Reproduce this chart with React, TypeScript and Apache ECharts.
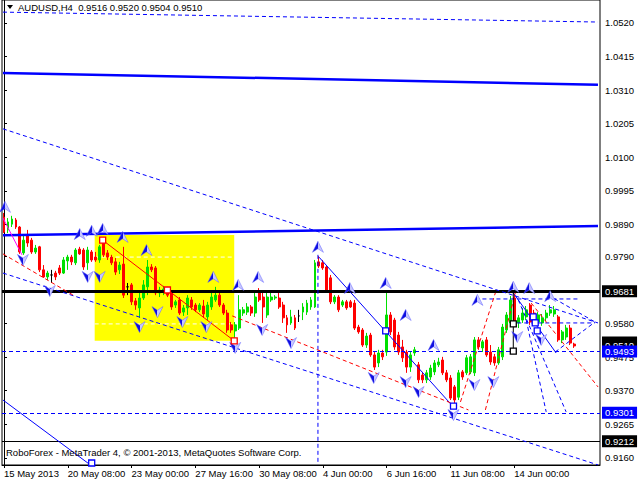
import React, { useEffect, useRef } from "react";
import * as echarts from "echarts";

// ---- candle data (H4 bars, oldest first) ----
const opens = [
  0.9913, 0.9873, 0.9891, 0.9904, 0.9882, 0.9801, 0.9857, 0.9841, 0.9804, 0.982,
  0.9748, 0.9726, 0.9732, 0.9738, 0.9754, 0.9738, 0.9776, 0.9788, 0.977, 0.9813,
  0.981, 0.977, 0.9804, 0.9788, 0.9779, 0.9835, 0.9801, 0.9788, 0.9773, 0.9748,
  0.9766, 0.9695, 0.9701, 0.9651, 0.9629, 0.966, 0.9695, 0.9757, 0.9754, 0.9676,
  0.9679, 0.9685, 0.9676, 0.9638, 0.9654, 0.9616, 0.9629, 0.9654, 0.9638, 0.9623,
  0.9635, 0.9601, 0.9632, 0.9654, 0.9669, 0.9638, 0.9613, 0.9576, 0.9557, 0.9566,
  0.9613, 0.9616, 0.9632, 0.9613, 0.9679, 0.9663, 0.9607, 0.9654, 0.966, 0.966,
  0.9638, 0.9598, 0.9582, 0.9598, 0.9604, 0.9616, 0.9616, 0.9632, 0.9632, 0.9773,
  0.977, 0.9757, 0.9723, 0.9648, 0.9663, 0.9638, 0.9648, 0.9648, 0.9644, 0.9569,
  0.956, 0.9513, 0.9544, 0.9482, 0.9457, 0.9488, 0.9491, 0.9607, 0.9591, 0.9544,
  0.9507, 0.9491, 0.9444, 0.9488, 0.9451, 0.9419, 0.9404, 0.9413, 0.9429, 0.9451,
  0.9466, 0.9426, 0.941, 0.9382, 0.935, 0.9429, 0.9426, 0.9429, 0.9426, 0.9529,
  0.9504, 0.9529, 0.9491, 0.9476, 0.9457, 0.9476, 0.956, 0.9582, 0.966, 0.9582,
  0.9591, 0.9601, 0.9638, 0.9613, 0.9585, 0.9582, 0.9598, 0.9613, 0.961, 0.9601,
  0.9529, 0.9538, 0.9566, 0.9516,
];
const closes = [
  0.9866, 0.9898, 0.9907, 0.9882, 0.9804, 0.9841, 0.9832, 0.9804, 0.9816, 0.9748,
  0.9726, 0.9738, 0.9732, 0.9726, 0.9738, 0.9779, 0.9788, 0.9773, 0.981, 0.9798,
  0.9757, 0.981, 0.9779, 0.9779, 0.982, 0.9795, 0.9788, 0.977, 0.9741, 0.9763,
  0.9669, 0.9695, 0.9648, 0.9638, 0.966, 0.9701, 0.9757, 0.9748, 0.9676, 0.9685,
  0.9688, 0.9669, 0.9632, 0.9648, 0.9613, 0.9629, 0.966, 0.9632, 0.9623, 0.9638,
  0.961, 0.9638, 0.9663, 0.9669, 0.9638, 0.9613, 0.956, 0.956, 0.9576, 0.9623,
  0.9623, 0.9632, 0.9613, 0.9663, 0.9654, 0.9632, 0.9663, 0.9663, 0.9663, 0.9632,
  0.9598, 0.9576, 0.9601, 0.9566, 0.9604, 0.9632, 0.9644, 0.9654, 0.977, 0.976,
  0.9754, 0.9685, 0.9648, 0.9663, 0.9623, 0.9648, 0.9629, 0.9632, 0.9566, 0.9554,
  0.9513, 0.9541, 0.9482, 0.9444, 0.9488, 0.9476, 0.9607, 0.9554, 0.9507, 0.9491,
  0.9473, 0.9444, 0.9482, 0.9498, 0.9404, 0.9404, 0.9426, 0.9441, 0.9457, 0.946,
  0.9426, 0.9404, 0.9347, 0.9341, 0.9426, 0.9413, 0.9473, 0.9476, 0.9529, 0.9507,
  0.9523, 0.9482, 0.946, 0.9457, 0.9498, 0.9569, 0.9607, 0.9654, 0.9585, 0.9598,
  0.9613, 0.9623, 0.9585, 0.9591, 0.9607, 0.9598, 0.9613, 0.9623, 0.9623, 0.9529,
  0.9554, 0.9566, 0.9519, 0.951,
];
const lows = [
  0.9863, 0.9863, 0.9882, 0.9876, 0.9798, 0.9795, 0.982, 0.9798, 0.9798, 0.9741,
  0.9723, 0.9716, 0.9707, 0.9716, 0.9732, 0.9735, 0.9748, 0.9763, 0.9763, 0.9795,
  0.9748, 0.9748, 0.9773, 0.9773, 0.977, 0.9788, 0.9779, 0.9763, 0.9732, 0.9735,
  0.966, 0.9669, 0.9638, 0.9623, 0.9598, 0.9654, 0.9669, 0.9741, 0.9669, 0.9663,
  0.9669, 0.9663, 0.9623, 0.9629, 0.9607, 0.9604, 0.9607, 0.9623, 0.9616, 0.9616,
  0.9598, 0.9591, 0.9623, 0.9648, 0.9632, 0.9607, 0.9551, 0.9551, 0.9529, 0.956,
  0.9604, 0.9607, 0.9604, 0.9601, 0.9648, 0.9582, 0.9598, 0.9648, 0.9654, 0.9626,
  0.9582, 0.9551, 0.9576, 0.956, 0.9585, 0.9591, 0.9607, 0.9623, 0.9629, 0.9754,
  0.9748, 0.9679, 0.9641, 0.9641, 0.9616, 0.9632, 0.9623, 0.9629, 0.956, 0.9548,
  0.9507, 0.9504, 0.9476, 0.9435, 0.9444, 0.9466, 0.9479, 0.9544, 0.9498, 0.9482,
  0.946, 0.9426, 0.9429, 0.9479, 0.9394, 0.9394, 0.9394, 0.9404, 0.9419, 0.9444,
  0.9419, 0.9397, 0.9341, 0.9322, 0.9341, 0.9404, 0.9419, 0.9422, 0.9416, 0.9498,
  0.9491, 0.9476, 0.9451, 0.9448, 0.9451, 0.9466, 0.9551, 0.9573, 0.9569, 0.9566,
  0.9582, 0.9591, 0.9576, 0.9582, 0.9576, 0.9573, 0.9588, 0.9604, 0.9601, 0.9523,
  0.9519, 0.9529, 0.9513, 0.9504,
];
const highs = [
  0.9926, 0.991, 0.9917, 0.991, 0.9885, 0.9857, 0.9873, 0.9848, 0.9826, 0.9823,
  0.9763, 0.9745, 0.9748, 0.9745, 0.9763, 0.9788, 0.9795, 0.9795, 0.9816, 0.982,
  0.9816, 0.982, 0.981, 0.9804, 0.9826, 0.9841, 0.981, 0.9795, 0.9785, 0.9773,
  0.982, 0.9707, 0.9707, 0.966, 0.9685, 0.9716, 0.9779, 0.9766, 0.976, 0.9695,
  0.9698, 0.9695, 0.9685, 0.9654, 0.9663, 0.9638, 0.9669, 0.9663, 0.9644, 0.9644,
  0.9654, 0.9648, 0.9679, 0.9695, 0.9679, 0.9644, 0.9623, 0.9585, 0.9585, 0.9669,
  0.9632, 0.9644, 0.9638, 0.9679, 0.9691, 0.9676, 0.9679, 0.9676, 0.9669, 0.9679,
  0.9648, 0.9607, 0.9623, 0.9607, 0.9623, 0.9644, 0.9654, 0.9663, 0.9779, 0.9791,
  0.9779, 0.9763, 0.9732, 0.9669, 0.9669, 0.9654, 0.9654, 0.9654, 0.9654, 0.9576,
  0.9566, 0.9551, 0.9551, 0.9491, 0.9498, 0.9498, 0.9676, 0.9616, 0.9598, 0.9554,
  0.9529, 0.9498, 0.9491, 0.9507, 0.946, 0.9429, 0.9435, 0.9451, 0.9466, 0.9473,
  0.9476, 0.9435, 0.9419, 0.9388, 0.9435, 0.9435, 0.9482, 0.9485, 0.9538, 0.9538,
  0.9529, 0.9538, 0.9513, 0.9485, 0.9507, 0.9579, 0.9616, 0.9666, 0.9673, 0.9607,
  0.9629, 0.9635, 0.9644, 0.9623, 0.9616, 0.961, 0.9623, 0.9638, 0.9635, 0.9607,
  0.956, 0.9576, 0.9576, 0.952,
];

// ---- axis labels ----
const timeLabels = [
  "15 May 2013", "20 May 08:00", "23 May 00:00", "27 May 16:00", "30 May 08:00",
  "4 Jun 00:00", "6 Jun 16:00", "11 Jun 08:00", "14 Jun 00:00",
];
const timeLabelBars = [0, 16, 32, 48, 64, 80, 96, 112, 128];
const totalSlots = 150;
const priceTicks = [
  0.916, 0.9265, 0.937, 0.9475, 0.958, 0.979, 0.989, 0.9995, 1.01, 1.0205, 1.031, 1.0415, 1.052,
];
const priceMin = 0.91378;
const priceMax = 1.05919;

// ---- horizontal levels (price) ----
const levelMain = 0.9681; // thick black
const levelLow = 0.9212; // thin black
const levelBid = 0.951; // last price label
const levelBlueA = 0.9493; // blue dashed
const levelBlueB = 0.9301; // blue dashed

// ---- drawn objects: [barFrom, priceFrom, barTo, priceTo] ----
const thickBlueLines = [
  [-0.25, 1.0364, 149, 1.0327],
  [-0.25, 0.9856, 149, 0.9885],
];
const blueDashedLines = [
  [-0.25, 1.0554, 149, 1.0523],
  [-0.25, 1.0189, 149, 0.9582],
  [-0.25, 0.9738, 149, 0.9138],
  [78.75, 0.9795, 78.75, 0.9138],
  [118.25, 0.9657, 144, 0.9657],
  [128.75, 0.9582, 148.25, 0.9582],
  [136.5, 0.9669, 148.25, 0.9585],
  [138.25, 0.9491, 148.25, 0.9585],
  [129, 0.9654, 141, 0.9304],
  [131, 0.9591, 136, 0.9304],
];
const blueThinLines = [
  [-0.25, 0.9341, 22, 0.9135],
  [79, 0.9788, 112.75, 0.9319],
  [127.75, 0.9676, 138.5, 0.9488],
];
const redDashedLines = [
  [-0.25, 0.9798, 17.75, 0.9666],
  [57.25, 0.9604, 116.5, 0.931],
  [114.5, 0.9335, 123.25, 0.9676],
  [120.75, 0.931, 128.25, 0.9676],
  [132.25, 0.9644, 149, 0.9382],
];
const redSolidLines = [[24.75, 0.9841, 57.75, 0.9526]];
const magentaLines = [[-0.25, 0.991, 4.5, 0.9795]];
const blackLines = [[127.75, 0.9676, 127.75, 0.9491]];
const whiteDashedLines = [
  [22.75, 0.9788, 57.75, 0.9788],
  [22.75, 0.9579, 57.75, 0.9579],
];
const yellowBox = [22.75, 0.9857, 57.75, 0.9526];

const upArrows = [
  [0.25, 0.9945], [19, 0.986], [22, 0.987], [24.75, 0.9876], [29.75, 0.9851],
  [35.75, 0.981], [52.5, 0.9726], [58.75, 0.9701], [63.75, 0.9726], [78.75, 0.982],
  [86.75, 0.9691], [95.75, 0.9707], [100.75, 0.9607], [107.75, 0.9513], [118.75, 0.9654],
  [127.75, 0.9695], [131.75, 0.9691], [137, 0.9666],
];
const downArrows = [
  [4.75, 0.9779], [11.5, 0.9682], [21, 0.9726], [24, 0.9726], [34, 0.9569],
  [38.5, 0.9616], [44.75, 0.9585], [50.75, 0.9569], [58, 0.9504], [64.75, 0.956],
  [72, 0.9519], [92.75, 0.941], [100.75, 0.9397], [104, 0.9366], [112.75, 0.9294],
  [118, 0.9388], [122.75, 0.9397], [128.75, 0.9538], [134.75, 0.9529],
];
const redSquares = [[24.75, 0.9841], [41, 0.9685], [57.75, 0.9526]];
const blueSquares = [
  [95.75, 0.9557], [112.75, 0.9322], [22, 0.9144], [132.75, 0.9601], [133.25, 0.9582], [133.75, 0.9557],
];
const blackSquares = [[127.75, 0.9579], [127.75, 0.9494]];

const FONT = "'Liberation Sans', Arial, sans-serif";
const BLUE = "#0000ff";

function segSeries(segs: number[][], color: string, width: number, type: any, z = 5) {
  return segs.map((s) => ({
    type: "line",
    xAxisIndex: 1,
    yAxisIndex: 0,
    data: [
      [s[0], s[1]],
      [s[2], s[3]],
    ],
    symbol: "none",
    silent: true,
    z,
    lineStyle: { color, width, type },
    animation: false,
  }));
}

export default function App() {
  const ref = useRef<HTMLDivElement>(null);
  useEffect(() => {
    if (!ref.current) return;
    const chart = echarts.init(ref.current, null, { renderer: "svg" });
    const cats = Array.from({ length: totalSlots }, (_, i) => {
      const k = timeLabelBars.indexOf(i);
      return k >= 0 ? timeLabels[k] : "";
    });
    const candles = opens.map((o, i) => [o, closes[i], lows[i], highs[i]]);
    const showFn = (_: number, v: string) => v !== "";
    const dash = [4, 3];
    const arrowFill = new echarts.graphic.LinearGradient(0, 0, 1, 0, [
      { offset: 0, color: "#1010e0" },
      { offset: 0.5, color: "#1010e0" },
      { offset: 0.5, color: "#c8c8ff" },
      { offset: 1, color: "#c8c8ff" },
    ]);
    const lvlLabel = (bg: string, pad = [1, 3, 1, 3]) => ({
      show: true,
      position: "end",
      distance: 2,
      formatter: (p: any) => Number(p.value).toFixed(4),
      color: "#fff",
      backgroundColor: bg,
      padding: pad,
      fontSize: 9.5,
      fontFamily: FONT,
    });

    const option: any = {
      animation: false,
      backgroundColor: "#fff",
      grid: {
        left: 2,
        right: 40,
        top: 0,
        bottom: 15,
        show: true,
        borderColor: "#000",
        borderWidth: 1,
        backgroundColor: "#fff",
      },
      xAxis: [
        {
          type: "category",
          data: cats,
          boundaryGap: true,
          axisLine: { show: true, lineStyle: { color: "#000" } },
          axisTick: { show: true, interval: showFn, alignWithLabel: true, length: 3, lineStyle: { color: "#000" } },
          axisLabel: {
            interval: showFn,
            align: "left",
            margin: 3,
            fontSize: 9.5,
            fontFamily: FONT,
            color: "#000",
          },
          splitLine: { show: false },
        },
        { type: "value", min: -0.5, max: totalSlots - 0.5, show: false },
      ],
      yAxis: {
        type: "value",
        position: "right",
        min: priceMin,
        max: priceMax,
        splitLine: { show: false },
        axisLine: { show: true, lineStyle: { color: "#000" } },
        axisTick: { show: true, length: 3, customValues: priceTicks, lineStyle: { color: "#000" } },
        axisLabel: {
          customValues: priceTicks,
          formatter: (v: number) => v.toFixed(4),
          margin: 5,
          fontSize: 9.5,
          fontFamily: FONT,
          color: "#000",
        },
      },
      graphic: [
        { type: "polygon", shape: { points: [[7, 5], [13, 5], [10, 9]] }, style: { fill: "#000" }, z: 20 },
        {
          type: "text",
          x: 18,
          y: 2,
          style: { text: "AUDUSD,H4  0.9516 0.9520 0.9504 0.9510", fill: "#000", font: `9.5px ${FONT}` },
          z: 20,
        },
        {
          type: "text",
          x: 6,
          y: 447,
          style: {
            text: "RoboForex - MetaTrader 4, © 2001-2013, MetaQuotes Software Corp.",
            fill: "#000",
            font: `9.5px ${FONT}`,
          },
          z: 20,
        },
      ],
      series: [
        {
          type: "line",
          xAxisIndex: 1,
          data: [],
          silent: true,
          z: 1,
          markArea: {
            silent: true,
            itemStyle: { color: "#ffff00", opacity: 1 },
            data: [[{ coord: [yellowBox[0], yellowBox[1]] }, { coord: [yellowBox[2], yellowBox[3]] }]],
          },
        },
        ...segSeries(whiteDashedLines, "#ffffff", 1, dash, 2),
        {
          type: "candlestick",
          xAxisIndex: 0,
          yAxisIndex: 0,
          data: candles,
          barWidth: 2.4,
          z: 3,
          silent: true,
          itemStyle: {
            color: "#00e000",
            color0: "#ff0000",
            borderColor: "#00e000",
            borderColor0: "#ff0000",
            borderColorDoji: "#000000",
            borderWidth: 1,
          },
          markLine: {
            silent: true,
            precision: 4,
            symbol: ["none", "none"],
            data: [
              { yAxis: levelMain, lineStyle: { color: "#000", width: 3, type: "solid" }, label: lvlLabel("#000") },
              { yAxis: levelLow, lineStyle: { color: "#000", width: 1, type: "solid" }, label: lvlLabel("#000") },
              {
                yAxis: levelBid,
                lineStyle: { color: "rgba(0,0,0,0)", width: 0 },
                label: lvlLabel("#000", [1, 3, 8, 3]),
              },
              { yAxis: levelBlueA, lineStyle: { color: BLUE, width: 1, type: dash }, label: lvlLabel(BLUE) },
              { yAxis: levelBlueB, lineStyle: { color: BLUE, width: 1, type: dash }, label: lvlLabel(BLUE) },
            ],
          },
        },
        ...segSeries(thickBlueLines, BLUE, 2.5, "solid"),
        ...segSeries(blueDashedLines, BLUE, 1, dash),
        ...segSeries(blueThinLines, BLUE, 1, "solid"),
        ...segSeries(redDashedLines, "#ff0000", 1, dash),
        ...segSeries(redSolidLines, "#ff0000", 1, "solid"),
        ...segSeries(magentaLines, "#ff00ff", 1, "solid"),
        ...segSeries(blackLines, "#000000", 1, "solid"),
        {
          type: "scatter",
          xAxisIndex: 1,
          data: upArrows,
          symbol: "path://M6 0L12 12L6 8L0 12Z",
          symbolSize: [11, 11],
          silent: true,
          z: 7,
          itemStyle: { color: arrowFill, borderColor: "#6060ff", borderWidth: 0.5, opacity: 1 },
        },
        {
          type: "scatter",
          xAxisIndex: 1,
          data: downArrows,
          symbol: "path://M0 0L6 4L12 0L6 12Z",
          symbolSize: [11, 11],
          silent: true,
          z: 7,
          itemStyle: { color: arrowFill, borderColor: "#6060ff", borderWidth: 0.5, opacity: 1 },
        },
        {
          type: "scatter",
          xAxisIndex: 1,
          data: redSquares,
          symbol: "rect",
          symbolSize: 6,
          silent: true,
          z: 8,
          itemStyle: { color: "#fff", borderColor: "#ff0000", borderWidth: 1.3, opacity: 1 },
        },
        {
          type: "scatter",
          xAxisIndex: 1,
          data: blueSquares,
          symbol: "rect",
          symbolSize: 6,
          silent: true,
          z: 8,
          itemStyle: { color: "#fff", borderColor: BLUE, borderWidth: 1.3, opacity: 1 },
        },
        {
          type: "scatter",
          xAxisIndex: 1,
          data: blackSquares,
          symbol: "rect",
          symbolSize: 6,
          silent: true,
          z: 8,
          itemStyle: { color: "#fff", borderColor: "#000", borderWidth: 1.3, opacity: 1 },
        },
      ],
    };
    chart.setOption(option);
    return () => chart.dispose();
  }, []);
  return (
    <div
      ref={ref}
      style={{ position: "fixed", left: 0, top: 0, width: 640, height: 480, background: "#fff" }}
    />
  );
}
